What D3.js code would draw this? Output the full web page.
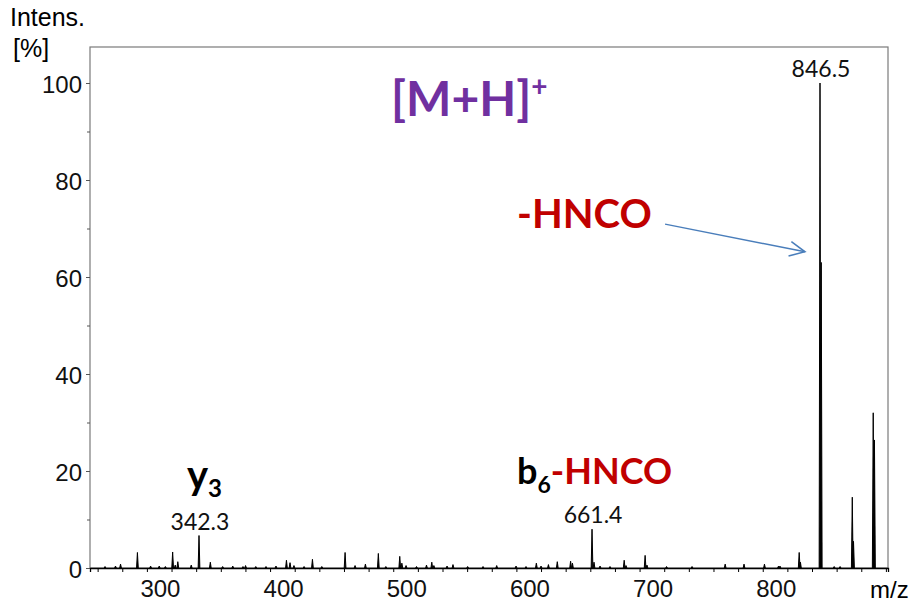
<!DOCTYPE html>
<html>
<head>
<meta charset="utf-8">
<script src="https://cdn.jsdelivr.net/npm/d3@7"></script>
<style>
  html, body { margin: 0; padding: 0; background: #fff; }
  svg { display: block; }
</style>
</head>
<body>
<div id="chart-container"></div>
<script>
// peak list (m/z, relative intensity %)
const peakMz = [
  266.0, 274.5, 278.6, 292.3, 303.0, 310.0, 315.0, 320.9, 323.0, 325.1,
  336.0, 342.3, 351.5, 361.5, 369.7, 378.0, 380.1, 388.4, 396.7, 404.8,
  413.3, 416.2, 419.4, 427.6, 434.4, 442.0, 460.9, 469.0, 477.4, 487.9,
  494.0, 505.3, 507.0, 510.4, 518.9, 527.0, 531.3, 533.0, 543.7, 548.5,
  560.4, 572.9, 584.0, 599.7, 607.8, 616.2, 620.0, 626.0, 633.2, 644.0,
  645.5, 661.4, 663.0, 667.9, 676.0, 687.5, 689.0, 704.5, 706.0, 721.9,
  742.6, 769.5, 784.8, 801.4, 812.8, 814.0, 829.6, 830.6, 846.5, 847.5,
  858.0, 862.8, 872.7, 873.7, 889.7, 890.7
];
const peakInt = [
  0.3, 0.4, 0.8, 3.2, 0.4, 0.4, 0.3, 3.3, 0.6, 1.3,
  0.6, 6.7, 1.2, 0.3, 0.4, 0.3, 0.5, 0.3, 0.3, 0.4,
  1.6, 1.1, 0.5, 0.3, 1.8, 0.3, 3.2, 0.5, 0.8, 3.0,
  0.3, 2.4, 1.0, 0.5, 0.3, 0.6, 1.2, 0.5, 0.4, 0.7,
  0.3, 0.3, 0.5, 0.4, 0.3, 1.0, 0.4, 0.7, 1.3, 1.4,
  1.0, 8.0, 1.2, 0.4, 0.3, 1.6, 0.5, 2.6, 0.6, 0.3,
  0.3, 0.8, 0.8, 0.8, 0.4, 0.4, 3.2, 1.2, 100, 63,
  0.3, 0.3, 14.6, 5.5, 32, 26.4
];

// labelled peaks
const labelMz = [342.3, 661.4, 846.5];
const labelText = ["342.3", "661.4", "846.5"];

// axis ticks
const yMajor = [0, 20, 40, 60, 80, 100];
const yMinor = [10, 30, 50, 70, 90];
const xTicks = d3.range(260, 901, 20);
const xLabels = [300, 400, 500, 600, 700, 800];

const W = 915, H = 604;
const box = { left: 90, top: 47, right: 888, bottom: 568 };

const svg = d3.select("#chart-container")
  .append("svg")
  .attr("width", W)
  .attr("height", H);

const x = d3.scaleLinear().domain([253.8, 901.7]).range([box.left, box.right]);
const y = d3.scaleLinear().domain([0, 100]).range([box.bottom, 83]);

const axisFont = "'Liberation Sans', Arial, sans-serif";
const noteFont = "Lato, 'Open Sans', sans-serif";

// frame
svg.append("rect")
  .attr("x", box.left).attr("y", box.top)
  .attr("width", box.right - box.left)
  .attr("height", box.bottom - box.top)
  .attr("fill", "none")
  .attr("stroke", "#7a7a7a")
  .attr("stroke-width", 1.2);

// Y axis
const yAxis = svg.append("g")
  .attr("transform", `translate(${box.left},0)`)
  .call(d3.axisLeft(y).tickValues(yMajor).tickSize(4).tickPadding(4));
yAxis.select(".domain").remove();
yAxis.selectAll("line").attr("stroke", "#555");
yAxis.selectAll("text")
  .attr("font-family", axisFont).attr("font-size", 24).attr("fill", "#111")
  .attr("dy", "0.4em");

svg.append("g")
  .attr("transform", `translate(${box.left},0)`)
  .call(d3.axisLeft(y).tickValues(yMinor).tickSize(3).tickFormat(""))
  .call(g => g.select(".domain").remove())
  .selectAll("line").attr("stroke", "#555");

// X axis
const xAxis = svg.append("g")
  .attr("transform", `translate(0,${box.bottom})`)
  .call(d3.axisBottom(x).tickValues(xTicks).tickSize(4).tickPadding(8)
    .tickFormat(d => xLabels.includes(d) ? d : ""));
xAxis.select(".domain").attr("stroke", "#000").attr("stroke-width", 1.3);
xAxis.selectAll("line").attr("stroke", "#000");
xAxis.selectAll("text")
  .attr("font-family", axisFont).attr("font-size", 24).attr("fill", "#111")
  .attr("dx", 13);

// axis titles
svg.append("text")
  .attr("x", 10).attr("y", 26)
  .attr("font-family", axisFont).attr("font-size", 25)
  .text("Intens.");
svg.append("text")
  .attr("x", 13).attr("y", 57)
  .attr("font-family", axisFont).attr("font-size", 25)
  .text("[%]");
svg.append("text")
  .attr("x", 870).attr("y", 598)
  .attr("font-family", axisFont).attr("font-size", 24)
  .text("m/z");

// spectrum: one narrow triangle per peak
const halfWidth = 0.7;
const line = d3.line()
  .x(d => x(d[0]))
  .y(d => y(d[1]));

svg.append("g")
  .selectAll("path")
  .data(peakMz.map((mz, i) => ({ mz, v: peakInt[i] })))
  .join("path")
  .attr("d", d => line([[d.mz - halfWidth, 0], [d.mz, d.v], [d.mz + halfWidth, 0]]))
  .attr("fill", "#000")
  .attr("stroke", "#000")
  .attr("stroke-width", 1)
  .attr("stroke-linejoin", "miter");

// peak labels
svg.append("g")
  .selectAll("text")
  .data(labelMz)
  .join("text")
  .attr("x", d => x(d) + 1)
  .attr("y", d => y(peakInt[peakMz.indexOf(d)]) - 6)
  .attr("text-anchor", "middle")
  .attr("font-family", noteFont)
  .attr("font-size", 23)
  .attr("fill", "#111")
  .text((d, i) => labelText[i]);

// annotations
const purple = "#7030a0", red = "#c00000", blue = "#4a7ebb";

const mh = svg.append("text")
  .attr("x", 391).attr("y", 116)
  .attr("font-family", noteFont).attr("font-weight", 700)
  .attr("font-size", 48).attr("fill", purple);
mh.append("tspan").text("[M+H]");
mh.append("tspan").attr("font-size", 28).attr("dy", -20).text("+");

svg.append("text")
  .attr("x", 517).attr("y", 228)
  .attr("font-family", noteFont).attr("font-weight", 700)
  .attr("font-size", 40).attr("fill", red)
  .text("-HNCO");

// arrow from -HNCO to the fragment peak
const arrowFrom = [720.7, 70.9], arrowTo = [834.3, 65.2];
const x1 = x(arrowFrom[0]), y1 = y(arrowFrom[1]);
const x2 = x(arrowTo[0]), y2 = y(arrowTo[1]);
const ang = Math.atan2(y2 - y1, x2 - x1);
const headLen = 17, headAng = Math.PI / 7;
svg.append("line")
  .attr("x1", x1).attr("y1", y1).attr("x2", x2).attr("y2", y2)
  .attr("stroke", blue).attr("stroke-width", 1.5);
svg.append("path")
  .attr("d", `M${x2 - headLen * Math.cos(ang - headAng)},${y2 - headLen * Math.sin(ang - headAng)}` +
             `L${x2},${y2}` +
             `L${x2 - headLen * Math.cos(ang + headAng)},${y2 - headLen * Math.sin(ang + headAng)}`)
  .attr("fill", "none").attr("stroke", blue).attr("stroke-width", 1.5);

const y3 = svg.append("text")
  .attr("x", 187).attr("y", 489)
  .attr("font-family", noteFont).attr("font-weight", 700)
  .attr("font-size", 40).attr("fill", "#000");
y3.append("tspan").text("y");
y3.append("tspan").attr("font-size", 24).attr("dy", 8).text("3");

const b6 = svg.append("text")
  .attr("x", 517).attr("y", 484)
  .attr("font-family", noteFont).attr("font-weight", 700)
  .attr("font-size", 36).attr("fill", "#000");
b6.append("tspan").text("b");
b6.append("tspan").attr("font-size", 23).attr("dy", 9).text("6");
b6.append("tspan").attr("dy", -9).attr("fill", red).text("-HNCO");
</script>
</body>
</html>
